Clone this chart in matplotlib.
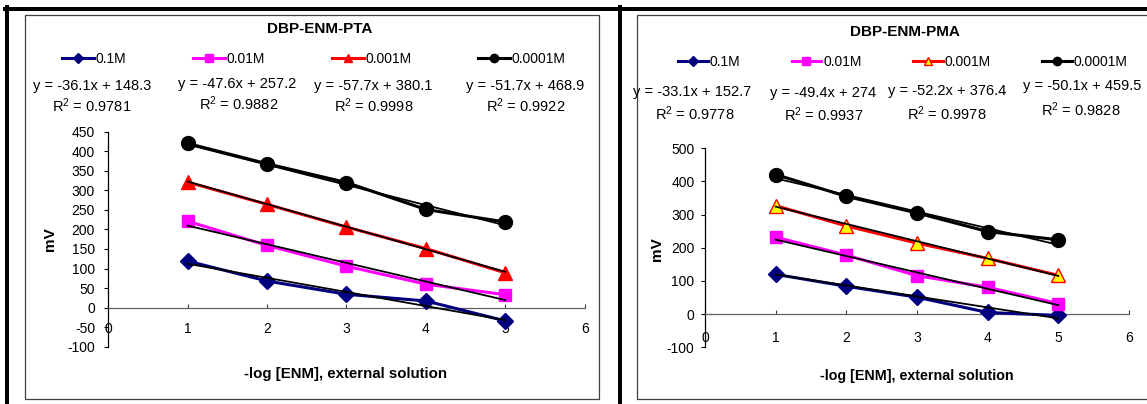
import matplotlib
matplotlib.use("Agg")
import matplotlib.pyplot as plt
from matplotlib.lines import Line2D
from matplotlib.patches import Rectangle
import numpy as np

plt.rcParams['font.family'] = ['Liberation Sans', 'DejaVu Sans']
plt.rcParams['mathtext.fontset'] = 'custom'
plt.rcParams['mathtext.rm'] = 'Liberation Sans'
plt.rcParams['mathtext.default'] = 'regular'
plt.rcParams['axes.unicode_minus'] = False

# ---------------- data ----------------
x_vals = [1, 2, 3, 4, 5]
conc_labels = ['0.1M', '0.01M', '0.001M', '0.0001M']

pta_01 = [119, 68, 34, 17, -34]
pta_001 = [221, 159, 106, 60, 33]
pta_0001 = [321, 264, 206, 151, 89]
pta_00001 = [420, 368, 320, 251, 219]
pta_slopes = [-36.1, -47.6, -57.7, -51.7]
pta_intercepts = [148.3, 257.2, 380.1, 468.9]
pta_r2 = [0.9781, 0.9882, 0.9998, 0.9922]

pma_01 = [120, 84, 51, 5, -4]
pma_001 = [232, 178, 116, 81, 32]
pma_0001 = [327, 266, 214, 168, 117]
pma_00001 = [421, 355, 305, 249, 224]
pma_slopes = [-33.1, -49.4, -52.2, -50.1]
pma_intercepts = [152.7, 274, 376.4, 459.5]
pma_r2 = [0.9778, 0.9937, 0.9978, 0.9828]

pta_title = 'DBP-ENM-PTA'
pma_title = 'DBP-ENM-PMA'
x_label = '-log [ENM], external solution'
y_label = 'mV'
pta_yticks = list(range(-100, 451, 50))
pma_yticks = list(range(-100, 501, 100))
x_ticks = [0, 1, 2, 3, 4, 5, 6]

# ---------------- figure ----------------
W, H = 1147, 404
fig = plt.figure(figsize=(W / 100, H / 100), dpi=100)
fig.patch.set_facecolor('white')


def fx(x):
    return x / W


def fy(y):
    return 1 - y / H


def eq_text(m, b):
    return 'y = %gx + %g' % (m, b)


# outer thick black frame lines
lw_thick = 4 * 72 / 100
fig.add_artist(Line2D([fx(5), fx(1147)], [fy(9), fy(9)], color='black', lw=lw_thick))
fig.add_artist(Line2D([fx(6.5), fx(6.5)], [fy(7), fy(404)], color='black', lw=lw_thick))
fig.add_artist(Line2D([fx(620), fx(620)], [fy(7), fy(404)], color='black', lw=lw_thick))

# inner chart-area borders
fig.add_artist(Rectangle((fx(25), fy(399)), fx(599 - 25), (399 - 15) / H,
                         fill=False, edgecolor='#404040', lw=0.9))
fig.add_artist(Rectangle((fx(637), fy(399)), fx(1160 - 637), (399 - 15) / H,
                         fill=False, edgecolor='#404040', lw=0.9))

series_colors = ['#000080', '#FF00FF', '#FF0000', '#000000']
series_markers = ['D', 's', '^', 'o']
marker_sizes = [8, 9, 10, 10]


def draw_panel(ax_rect, series, slopes, intercepts, r2s, ylim, yticks,
               tri_face, title, title_xy, leg_xy, leg_hl, leg_cs,
               eq_pos, r2_pos, xlab_xy, ylab_xy, xlab_size, xpad, ypad):
    ax = fig.add_axes(ax_rect)
    ax.set_facecolor('none')
    handles = []
    for i, ys in enumerate(series):
        mfc = series_colors[i]
        mec = series_colors[i]
        if i == 2 and tri_face is not None:
            mfc = tri_face
        ln, = ax.plot(x_vals, ys, color=series_colors[i], lw=2.2,
                      marker=series_markers[i], markersize=marker_sizes[i],
                      markerfacecolor=mfc, markeredgecolor=mec,
                      markeredgewidth=1.0, zorder=3, clip_on=False,
                      label=conc_labels[i])
        handles.append(ln)
    xs = np.array([x_vals[0], x_vals[-1]], dtype=float)
    for m, b in zip(slopes, intercepts):
        ax.plot(xs, m * xs + b, color='black', lw=1.3, zorder=4,
                clip_on=False)
    ax.set_xlim(0, 6)
    ax.set_ylim(*ylim)
    ax.set_xticks(x_ticks)
    ax.set_yticks(yticks)
    ax.spines['top'].set_visible(False)
    ax.spines['right'].set_visible(False)
    ax.spines['left'].set_position(('data', 0))
    ax.spines['bottom'].set_position(('data', 0))
    ax.spines['left'].set_color('black')
    ax.spines['bottom'].set_color('#606060')
    ax.spines['left'].set_linewidth(0.9)
    ax.spines['bottom'].set_linewidth(0.9)
    ax.tick_params(axis='x', direction='in', length=3, width=0.8,
                   pad=xpad, labelsize=10, color='#404040')
    ax.tick_params(axis='y', direction='out', length=3, width=0.8,
                   pad=ypad, labelsize=10)

    # title
    fig.text(fx(title_xy[0]), fy(title_xy[1]), title, ha='center', va='center',
             fontsize=11, fontweight='bold')
    # legend
    fig.legend(handles=handles, loc='center left',
               bbox_to_anchor=(fx(leg_xy[0]), fy(leg_xy[1])),
               ncol=4, frameon=False, fontsize=10, borderpad=0,
               borderaxespad=0, handlelength=leg_hl, handletextpad=0.12,
               columnspacing=leg_cs, markerscale=0.6)
    # equations
    for i in range(4):
        fig.text(fx(eq_pos[i][0]), fy(eq_pos[i][1]),
                 eq_text(slopes[i], intercepts[i]),
                 ha='center', va='center', fontsize=10.5)
        fig.text(fx(r2_pos[i][0]), fy(r2_pos[i][1]),
                 r'R$^{2}$ = %.4f' % r2s[i],
                 ha='center', va='center', fontsize=10.5)
    # axis labels
    fig.text(fx(xlab_xy[0]), fy(xlab_xy[1]), x_label, ha='center',
             va='center', fontsize=xlab_size, fontweight='bold')
    fig.text(fx(ylab_xy[0]), fy(ylab_xy[1]), y_label, ha='center',
             va='center', fontsize=11, fontweight='bold', rotation=90)
    return ax


# left panel (PTA)
draw_panel([108.3 / W, (H - 346.7) / H, 476.4 / W, 215.0 / H],
           [pta_01, pta_001, pta_0001, pta_00001],
           pta_slopes, pta_intercepts, pta_r2,
           (-100, 450), pta_yticks, None,
           pta_title, (320, 29), (62, 59), 2.3, 4.8,
           [(92, 86), (237, 84), (373, 86), (525, 86)],
           [(92, 106), (239, 104), (374, 106), (526, 106)],
           (346, 374), (50, 239), 10.8, 10.5, 6.5)

# right panel (PMA)
draw_panel([705 / W, (H - 347.3) / H, 424 / W, 199.0 / H],
           [pma_01, pma_001, pma_0001, pma_00001],
           pma_slopes, pma_intercepts, pma_r2,
           (-100, 500), pma_yticks, '#FFFF00',
           pma_title, (905, 32), (678, 62), 2.15, 3.7,
           [(692, 92), (823, 93), (947, 91), (1082, 86)],
           [(695, 114), (824, 115), (947, 114), (1081, 110)],
           (917, 376), (657, 249), 10.3, 12.0, 4.5)

fig.savefig('out.png', dpi=100, facecolor='white')
